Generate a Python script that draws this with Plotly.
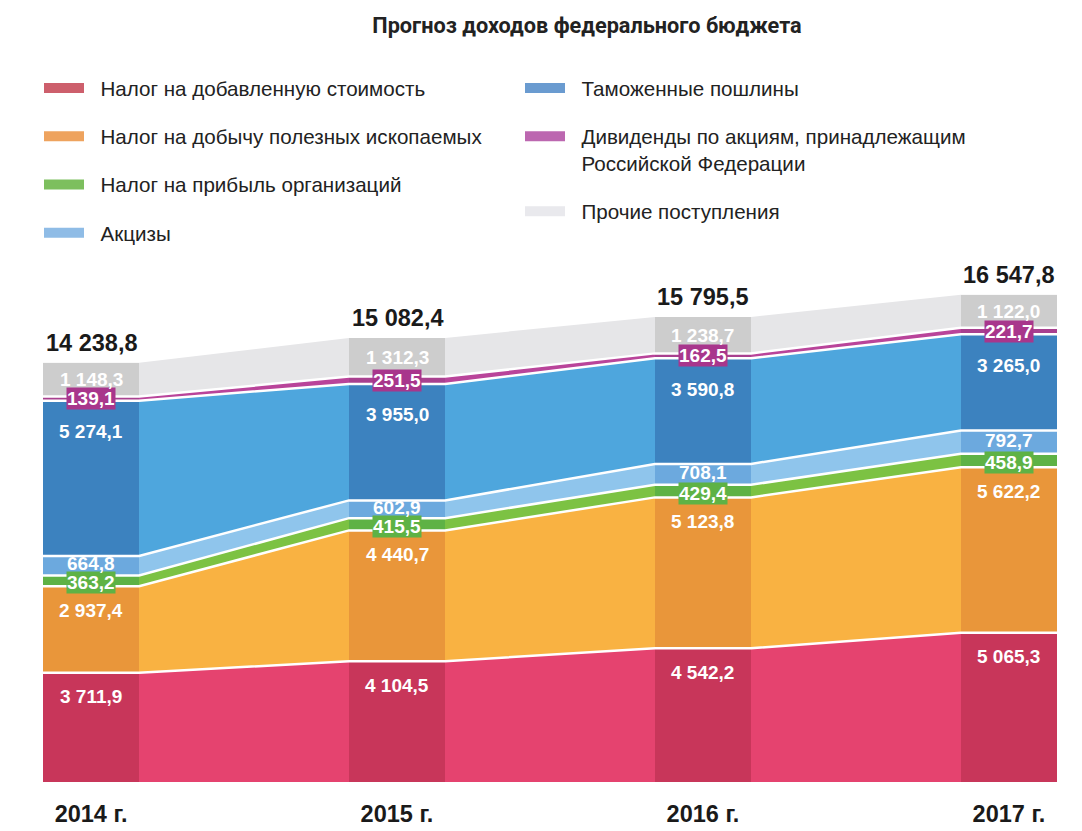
import numpy as np
import plotly.graph_objects as go

# ---------------- data ----------------
years = ["2014 г.", "2015 г.", "2016 г.", "2017 г."]
totals = [14238.8, 15082.4, 15795.5, 16547.8]

series_names = [
    "Налог на добавленную стоимость",
    "Налог на добычу полезных ископаемых",
    "Налог на прибыль организаций",
    "Акцизы",
    "Таможенные пошлины",
    "Дивиденды по акциям, принадлежащим<br>Российской Федерации",
    "Прочие поступления",
]
vat = [3711.9, 4104.5, 4542.2, 5065.3]
met = [2937.4, 4440.7, 5123.8, 5622.2]
profit_tax = [363.2, 415.5, 429.4, 458.9]
excise = [664.8, 602.9, 708.1, 792.7]
customs = [5274.1, 3955.0, 3590.8, 3265.0]
dividends = [139.1, 251.5, 162.5, 221.7]
other = [1148.3, 1312.3, 1238.7, 1122.0]

# ---------------- styles ----------------
area_colors = ["#E5436F", "#F9B242", "#7CC243", "#8FC5EC", "#4EA6DD", "#B9449A", "#E6E6E8"]
bar_colors = ["#C8365A", "#E9963A", "#5EB245", "#6CA9DE", "#3C82BF", "#A8408F", "#CDCDCD"]
legend_colors = ["#CD5F6C", "#EEA35E", "#7DBF5E", "#8FBCE6", "#6A9BD0", "#BC67B0", "#E9E9ED"]
legend_ids = ["legend", "legend", "legend", "legend", "legend2", "legend2", "legend2"]
label_mode = ["top", "top", "center", "center", "top", "center", "center"]
label_shift = [-24, -24, -2, 2, -31, 0, 0]
label_bg = [None, None, "#5EB245", None, None, "#A8368C", None]

BAR_W = 0.314
FONT = "Liberation Sans, Arial, sans-serif"
PAD = "\u00a0\u00a0"  # small indent between legend swatch and text

stack = np.array([vat, met, profit_tax, excise, customs, dividends, other])
cum = np.cumsum(stack, axis=0)
idx = np.arange(len(years))
area_x = np.ravel(np.column_stack([idx - BAR_W / 2, idx + BAR_W / 2]))


def fmt(v):
    return f"{v:,.1f}".replace(",", " ").replace(".", ",")


fig = go.Figure()

# stacked areas (main axes)
for s in range(len(series_names)):
    fig.add_trace(go.Scatter(
        x=area_x, y=np.repeat(stack[s], 2), stackgroup="areas", mode="lines",
        line=dict(width=0), fillcolor=area_colors[s], showlegend=False,
        hoverinfo="skip"))

# darker year columns (overlay axes so they sit on top of the areas)
for s in range(len(series_names)):
    fig.add_trace(go.Bar(
        x=idx, y=stack[s], width=BAR_W, marker=dict(color=bar_colors[s], line=dict(width=0)),
        xaxis="x2", yaxis="y2", showlegend=False, hoverinfo="skip"))

# white separator lines
for s in range(len(series_names) - 1):
    fig.add_trace(go.Scatter(
        x=area_x, y=np.repeat(cum[s], 2), mode="lines",
        line=dict(color="white", width=2.5), xaxis="x2", yaxis="y2",
        showlegend=False, hoverinfo="skip"))

# legend entries
for s in range(len(series_names)):
    label = PAD + series_names[s].replace("<br>", "<br>" + PAD)
    fig.add_trace(go.Scatter(
        x=[None], y=[None], mode="lines", name=label,
        line=dict(color=legend_colors[s], width=13),
        legend=legend_ids[s], legendgroup=f"g{s}"))

annotations = []
for s in range(len(series_names)):
    for i in range(len(years)):
        bottom = cum[s - 1][i] if s > 0 else 0.0
        top = cum[s][i]
        y = top if label_mode[s] == "top" else (bottom + top) / 2
        ann = dict(x=idx[i], y=y, xref="x", yref="y", text=fmt(stack[s][i]),
                   showarrow=False, yanchor="middle", yshift=label_shift[s],
                   font=dict(family=FONT, size=19, color="white", weight="bold"))
        if label_bg[s]:
            ann.update(bgcolor=label_bg[s], borderpad=0)
        annotations.append(ann)

for i in range(len(years)):
    annotations.append(dict(
        x=idx[i], y=totals[i], xref="x", yref="y", text=fmt(totals[i]),
        showarrow=False, yanchor="middle", yshift=20,
        font=dict(family=FONT, size=23.5, color="#1a1a1a", weight="bold")))

W, H = 1074, 823  # page body adds an 8px offset

legend_common = dict(
    xref="container", yref="container", xanchor="left", yanchor="top",
    bgcolor="rgba(0,0,0,0)", borderwidth=0, traceorder="grouped",
    itemclick=False, itemdoubleclick=False, valign="top", itemwidth=40,
    font=dict(family=FONT, size=20.6, color="#222222"))

fig.update_layout(
    width=W, height=H,
    margin=dict(l=35, r=25, t=244, b=49, autoexpand=False),
    paper_bgcolor="white", plot_bgcolor="white",
    barmode="stack", bargap=0,
    title=dict(text="Прогноз доходов федерального бюджета", x=579 / W, xanchor="center",
               y=1 - 17 / H, yanchor="middle",
               font=dict(family="Roboto, sans-serif",
                         size=21.7, color="#222222", weight="bold")),
    xaxis=dict(range=[-BAR_W / 2, len(years) - 1 + BAR_W / 2], tickvals=idx, ticktext=years,
               showgrid=False, zeroline=False, showline=False, ticks="",
               ticklabelstandoff=15, tickangle=0,
               tickfont=dict(family=FONT, size=23.5, color="#1a1a1a", weight="bold")),
    yaxis=dict(range=[0, 18000], visible=False),
    xaxis2=dict(overlaying="x", matches="x", visible=False),
    yaxis2=dict(overlaying="y", matches="y", visible=False),
    legend=dict(x=31 / W, y=1 - 60 / H, tracegroupgap=18.5, **legend_common),
    legend2=dict(x=512 / W, y=1 - 60 / H, tracegroupgap=18.5, **legend_common),
    annotations=annotations,
    showlegend=True,
)

fig.write_html("out.html")
